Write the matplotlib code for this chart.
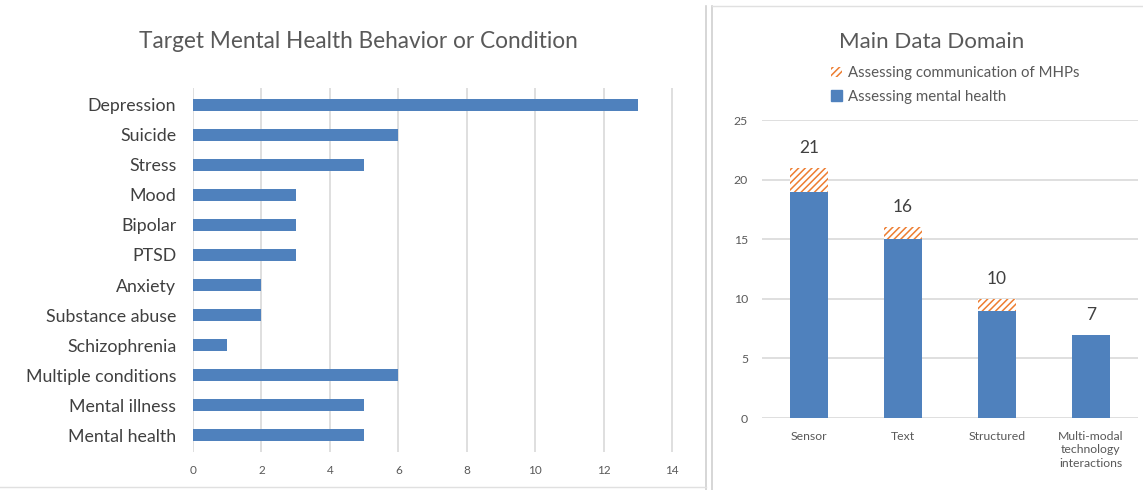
import matplotlib
matplotlib.use("Agg")
import matplotlib.pyplot as plt
from matplotlib.patches import Patch
from matplotlib.lines import Line2D

plt.rcParams['font.family'] = ['Lato', 'DejaVu Sans']
plt.rcParams['hatch.linewidth'] = 1.1

conditions = ["Depression", "Suicide", "Stress", "Mood", "Bipolar", "PTSD", "Anxiety",
              "Substance abuse", "Schizophrenia", "Multiple conditions", "Mental illness",
              "Mental health"]
condition_counts = [13, 6, 5, 3, 3, 3, 2, 2, 1, 6, 5, 5]

domains = ["Sensor", "Text", "Structured", "Multi-modal\ntechnology\ninteractions"]
mental_health = [19, 15, 9, 7]
communication = [2, 1, 1, 0]

BLUE = "#4F81BD"
ORANGE = "#ED7D31"
GRID = "#D9D9D9"
TICK = "#595959"

W, H = 1143, 490
fig = plt.figure(figsize=(W / 100, H / 100), dpi=100)

def fx(px):
    return px / W

def fy(py):
    return 1 - py / H

# Left chart
ax1 = fig.add_axes([fx(193), fy(452), fx(674) - fx(193), fy(88) - fy(452)])
ypos = list(range(len(conditions)))
ax1.barh(ypos, condition_counts, height=0.4, color=BLUE, zorder=3)
ax1.set_ylim(len(conditions) - 0.45, -0.55)
ax1.set_xlim(0, 14.05)
ax1.set_xticks(range(0, 15, 2))
ax1.set_yticks(ypos)
ax1.set_yticklabels(conditions, fontsize=12.8, color="#404040")
ax1.tick_params(axis='y', length=0, pad=12)
ax1.tick_params(axis='x', length=0, labelsize=8.5, labelcolor=TICK, pad=9)
ax1.grid(axis='x', color=GRID, linewidth=1.2, zorder=0)
for s in ax1.spines.values():
    s.set_visible(False)
fig.text(fx(358), fy(42), "Target Mental Health Behavior or Condition", ha='center', va='center',
         fontsize=16.3, color=TICK)

# Right chart
ax2 = fig.add_axes([fx(762), fy(418), fx(1138) - fx(762), fy(120) - fy(418)])
xpos = list(range(len(domains)))
ax2.bar(xpos, mental_health, width=0.4, color=BLUE, zorder=3)
ax2.bar(xpos, communication, width=0.4, bottom=mental_health, color='white',
        edgecolor=ORANGE, hatch='/////', linewidth=0, zorder=3)
for x, a, b in zip(xpos, mental_health, communication):
    ax2.text(x, a + b + 1.0, str(a + b), ha='center', va='bottom', fontsize=12.5, color="#404040")
ax2.set_ylim(0, 25)
ax2.set_xlim(-0.5, 3.5)
ax2.set_yticks(range(0, 26, 5))
ax2.set_xticks(xpos)
ax2.set_xticklabels(domains, fontsize=8.8, color=TICK, linespacing=1.3, va='top')
ax2.tick_params(axis='both', length=0, labelsize=8.8, labelcolor=TICK)
ax2.tick_params(axis='y', pad=10)
ax2.tick_params(axis='x', pad=9)
ax2.grid(axis='y', color=GRID, linewidth=1.2, zorder=0)
for s in ax2.spines.values():
    s.set_visible(False)
fig.text(fx(932), fy(42), "Main Data Domain", ha='center', va='center', fontsize=16, color=TICK)

handles = [Patch(facecolor='white', edgecolor=ORANGE, hatch='/////', linewidth=0),
           Patch(facecolor=BLUE, edgecolor=BLUE)]
fig.legend(handles, ["Assessing communication of MHPs", "Assessing mental health"],
           loc='upper left', bbox_to_anchor=(fx(831), fy(66)), frameon=False, fontsize=10.8,
           labelcolor=TICK, handlelength=0.7, handleheight=0.7, handletextpad=0.4,
           labelspacing=0.65, borderaxespad=0, borderpad=0)

# Panel borders
for px in (706, 712):
    fig.add_artist(Line2D([fx(px), fx(px)], [0, fy(6)], color="#D0D0D0", linewidth=1.2))
fig.add_artist(Line2D([fx(712), 1], [fy(6), fy(6)], color="#E0E0E0", linewidth=1))
fig.add_artist(Line2D([0, fx(706)], [fy(487), fy(487)], color="#E0E0E0", linewidth=1))

fig.savefig("out.png", dpi=100)
